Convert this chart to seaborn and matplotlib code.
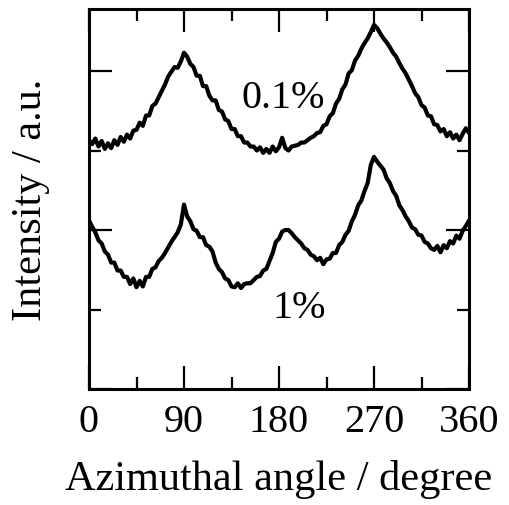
import matplotlib
matplotlib.use('Agg')
import matplotlib.pyplot as plt
import numpy as np
import pandas as pd
import seaborn as sns
from matplotlib.ticker import MultipleLocator

# azimuthal scan, sampled every 3 degrees
angle = np.arange(0, 361, 3)

# 0.1% sample (upper trace), arbitrary units
int_01 = [3.13, 3.08, 3.15, 3.05, 3.12, 3.02, 3.09, 3.03, 3.13, 3.07,
          3.17, 3.11, 3.20, 3.15, 3.25, 3.26, 3.35, 3.31, 3.44, 3.44,
          3.56, 3.59, 3.67, 3.75, 3.83, 3.93, 3.99, 4.05, 4.04, 4.12,
          4.23, 4.18, 4.09, 4.05, 3.94, 3.94, 3.81, 3.81, 3.69, 3.63,
          3.63, 3.51, 3.49, 3.39, 3.37, 3.27, 3.27, 3.18, 3.18, 3.10,
          3.10, 3.05, 3.05, 3.00, 3.04, 2.97, 3.02, 2.97, 3.05, 2.99,
          3.04, 3.16, 3.03, 3.00, 3.05, 3.06, 3.07, 3.10, 3.10, 3.13,
          3.16, 3.18, 3.22, 3.23, 3.31, 3.33, 3.43, 3.47, 3.59, 3.65,
          3.77, 3.83, 3.97, 4.01, 4.13, 4.19, 4.28, 4.35, 4.41, 4.49,
          4.58, 4.54, 4.47, 4.41, 4.36, 4.30, 4.23, 4.18, 4.10, 4.03,
          3.97, 3.89, 3.81, 3.72, 3.67, 3.57, 3.54, 3.44, 3.43, 3.33,
          3.32, 3.24, 3.27, 3.18, 3.23, 3.15, 3.20, 3.13, 3.21, 3.28,
          3.22]

# 1% sample (lower trace)
int_1 = [2.12, 2.04, 1.97, 1.87, 1.83, 1.73, 1.69, 1.59, 1.59, 1.49,
         1.49, 1.41, 1.41, 1.32, 1.39, 1.28, 1.36, 1.29, 1.41, 1.41,
         1.51, 1.53, 1.61, 1.65, 1.71, 1.78, 1.85, 1.91, 1.97, 2.07,
         2.32, 2.17, 2.11, 2.01, 1.99, 1.91, 1.91, 1.81, 1.79, 1.73,
         1.59, 1.51, 1.47, 1.39, 1.37, 1.29, 1.28, 1.33, 1.27, 1.32,
         1.33, 1.33, 1.37, 1.41, 1.42, 1.49, 1.51, 1.61, 1.71, 1.85,
         1.89, 1.98, 2.00, 2.00, 1.96, 1.91, 1.87, 1.83, 1.77, 1.75,
         1.69, 1.67, 1.62, 1.65, 1.57, 1.63, 1.64, 1.71, 1.71, 1.81,
         1.85, 1.94, 1.99, 2.11, 2.19, 2.31, 2.37, 2.49, 2.59, 2.82,
         2.92, 2.86, 2.81, 2.76, 2.65, 2.59, 2.49, 2.43, 2.31, 2.25,
         2.17, 2.11, 2.03, 2.01, 1.94, 1.93, 1.85, 1.83, 1.77, 1.75,
         1.80, 1.72, 1.81, 1.77, 1.86, 1.83, 1.93, 1.89, 1.99, 2.05,
         2.12]

xticks = [0, 90, 180, 270, 360]

sns.set_theme(style='ticks')
plt.rcParams['font.family'] = ['Liberation Serif', 'DejaVu Serif']
plt.rcParams['text.color'] = 'black'
plt.rcParams['axes.labelcolor'] = 'black'

df = pd.DataFrame({'angle': angle, '0.1%': int_01, '1%': int_1})

fig = plt.figure(figsize=(5.09, 5.06), dpi=100)
ax = fig.add_axes([89/509, 1-390/506, 380/509, 380/506])

sns.lineplot(data=df, x='angle', y='0.1%', color='black', linewidth=3.0, ax=ax)
sns.lineplot(data=df, x='angle', y='1%', color='black', linewidth=3.0, ax=ax)

ax.text(184, 3.67, '0.1%', fontsize=29, ha='center', va='center')
ax.text(199, 1.03, '1%', fontsize=29, ha='center', va='center')

ax.set_xlim(0, 360)
ax.set_ylim(0, 380/79.5)
ax.set_xticks(xticks)
ax.xaxis.set_minor_locator(MultipleLocator(45))
ax.yaxis.set_major_locator(MultipleLocator(2))
ax.yaxis.set_minor_locator(MultipleLocator(1))
ax.set_yticklabels([])
ax.tick_params(which='both', direction='in', top=True, right=True, width=1.6, colors='black')
ax.tick_params(which='major', length=16.5, labelsize=29, pad=10)
ax.tick_params(which='minor', length=8.6)
for s in ax.spines.values():
    s.set_linewidth(2.2)
    s.set_color('black')

ax.set_xlabel('Azimuthal angle / degree', fontsize=30.5, labelpad=14)
ax.set_ylabel('Intensity / a.u.', fontsize=30.5, labelpad=18)

fig.savefig('out.png', dpi=100)
